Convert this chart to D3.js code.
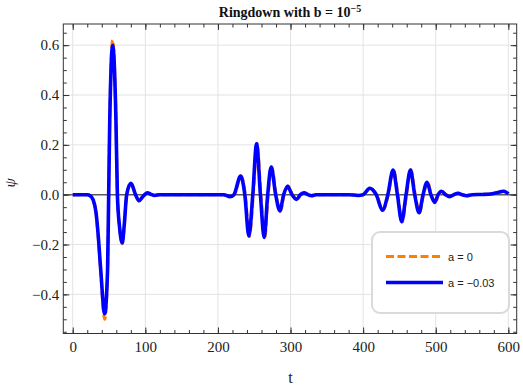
<!DOCTYPE html>
<html>
<head>
<meta charset="utf-8">
<script src="https://cdn.jsdelivr.net/npm/d3@7"></script>
<style>
body { margin: 0; background: #fff; }
</style>
</head>
<body>
<div id="vis"></div>
<script>
// ringdown waveform, values
var tBlue = [0, 20, 24, 28, 32, 35, 38.5, 44, 48, 49.5, 51, 55, 59.5, 61.5, 64.5, 68.3, 71, 74.3, 80.2, 86, 91.2, 97, 102.7, 108, 113, 120,
    200, 208, 216.5, 222, 231.2, 237, 242.6, 248, 253.2, 258.5, 263.7, 268.5, 273.3, 279.5, 285.3, 290.5, 295.9, 302, 308.2, 313.5, 318.7, 324, 328.9, 335,
    380, 393, 400, 409, 418, 426.6, 434, 441.2, 447.2, 453.1, 459.1, 465.1, 471, 477, 482.5, 488, 493.3, 498.6, 503.2, 507.8, 513.5, 519.2, 525, 530.6, 536.4, 542.2, 550, 565, 578, 587, 593, 597, 600];
var psiBlue = [0, 0, -0.004, -0.02, -0.07, -0.16, -0.3, -0.478, -0.3, 0, 0.3, 0.6, 0.3, 0, -0.13, -0.193, -0.12, 0, 0.046, 0.004, -0.024, -0.006, 0.008, 0.001, -0.003, 0,
    0, 0, -0.008, 0, 0.075, 0, -0.166, 0, 0.204, 0, -0.172, 0, 0.111, 0, -0.065, 0, 0.034, 0, -0.019, 0, 0.008, 0, -0.004, 0,
    0, -0.003, 0, 0.026, 0, -0.062, 0, 0.099, 0, -0.108, 0, 0.099, 0, -0.072, 0, 0.05, 0, -0.031, 0, 0.014, 0, -0.008, 0, 0.006, 0, -0.004, 0, 0.001, 0.004, 0.01, 0.014, 0.01, 0.003];

var tOrange = [0, 20, 24, 28, 32, 35, 38.5, 44, 48, 49.5, 51, 55, 59.5, 61.5, 64.5, 68.3, 71, 74.3, 80.2, 86, 91.2, 97, 102.7, 108, 113, 120,
    200, 208, 217, 222.7, 231.9, 237.7, 243.3, 248.7, 253.9, 259.2, 264.4, 269.2, 274, 280.2, 286, 291.2, 296.6, 302.7, 308.9, 314.2, 319.4, 324.7, 329.6, 335,
    380, 393.7, 400.7, 409.7, 418.7, 427.3, 434.7, 441.9, 447.9, 453.8, 459.8, 465.8, 471.7, 477.7, 483.2, 488.7, 494, 499.3, 503.9, 508.5, 514.2, 519.9, 525.7, 531.3, 537.1, 542.9, 550.7, 565, 578, 587, 593.5, 597.5, 600];
var psiOrange = [0, 0, -0.004, -0.021, -0.072, -0.165, -0.31, -0.5, -0.31, 0, 0.31, 0.62, 0.31, 0, -0.135, -0.197, -0.122, 0, 0.047, 0.004, -0.025, -0.006, 0.008, 0.001, -0.003, 0,
    0, 0, -0.008, 0, 0.076, 0, -0.168, 0, 0.206, 0, -0.174, 0, 0.113, 0, -0.066, 0, 0.035, 0, -0.019, 0, 0.008, 0, -0.004, 0,
    0, -0.003, 0, 0.026, 0, -0.063, 0, 0.101, 0, -0.11, 0, 0.101, 0, -0.073, 0, 0.051, 0, -0.031, 0, 0.014, 0, -0.008, 0, 0.006, 0, -0.004, 0, 0.001, 0.004, 0.01, 0.014, 0.01, 0.003];

var seriesNames = ["a = 0", "a = \u22120.03"];
var seriesColours = ["#ff8000", "#0000ff"];

var xTicks = [0, 100, 200, 300, 400, 500, 600];
var xMinorTicks = d3.range(-0, 620, 20);
var yTicks = [-0.4, -0.2, 0.0, 0.2, 0.4, 0.6];
var yMinorTicks = d3.range(-0.55, 0.7, 0.05);

var width = 523;
var height = 392;

var margin = {
    top: 24,
    bottom: 58.5,
    left: 63.3,
    right: 6.3
}

var svg = d3.select('#vis')
    .append('svg')
    .attr('width', width)
    .attr('height', height)
    .style('font-family', '"Liberation Serif", "Times New Roman", serif');

var w = width - margin.left - margin.right;
var h = height - margin.top - margin.bottom;

var g = svg.append('g')
    .attr('transform', 'translate(' + margin.left + ',' + margin.top + ')');

var x_scale = d3.scaleLinear()
    .domain([-13, 611.5])
    .range([0, w]);

var y_scale = d3.scaleLinear()
    .domain([-0.557, 0.685])
    .range([h, 0]);

g.append('clipPath')
    .attr('id', 'plotclip')
    .append('rect')
    .attr('width', w)
    .attr('height', h);

// grid
g.selectAll('.vgrid')
    .data(xTicks)
    .enter()
    .append('line')
    .attr('x1', function(d) { return x_scale(d); })
    .attr('x2', function(d) { return x_scale(d); })
    .attr('y1', 0)
    .attr('y2', h)
    .attr('stroke', '#e3e3e3');

g.selectAll('.hgrid')
    .data(yTicks.filter(function(d) { return d != 0; }))
    .enter()
    .append('line')
    .attr('y1', function(d) { return y_scale(d); })
    .attr('y2', function(d) { return y_scale(d); })
    .attr('x1', 0)
    .attr('x2', w)
    .attr('stroke', '#e3e3e3');

// zero line
g.append('line')
    .attr('x1', 0)
    .attr('x2', w)
    .attr('y1', y_scale(0))
    .attr('y2', y_scale(0))
    .attr('stroke', '#5a5a5a')
    .attr('stroke-width', 1.6);

var line = d3.line()
    .x(function(d) { return x_scale(d[0]); })
    .y(function(d) { return y_scale(d[1]); })
    .curve(d3.curveMonotoneX);

var orangeData = tOrange.map(function(t, i) { return [t, psiOrange[i]]; });
var blueData = tBlue.map(function(t, i) { return [t, psiBlue[i]]; });

var curves = g.append('g').attr('clip-path', 'url(#plotclip)');

curves.append('path')
    .datum(orangeData)
    .attr('d', line)
    .attr('fill', 'none')
    .attr('stroke', seriesColours[0])
    .attr('stroke-width', 3)
    .attr('stroke-dasharray', '8,3.5');

curves.append('path')
    .datum(blueData)
    .attr('d', line)
    .attr('fill', 'none')
    .attr('stroke', seriesColours[1])
    .attr('stroke-width', 3.6)
    .attr('stroke-linejoin', 'round');

// axes, ticks pointing inwards on all four sides
var fmt = d3.format('.1f');

function styleAxis(sel) {
    sel.select('.domain').remove();
    sel.selectAll('line').attr('stroke', '#333');
    sel.selectAll('text')
        .attr('fill', '#222')
        .style('font-size', '15px')
        .style('font-family', '"Liberation Serif", "Times New Roman", serif');
}

g.append('g')
    .attr('transform', 'translate(0,' + h + ')')
    .call(d3.axisBottom(x_scale).tickValues(xMinorTicks).tickSize(-3.5).tickFormat(''))
    .call(styleAxis);
g.append('g')
    .attr('transform', 'translate(0,' + h + ')')
    .call(d3.axisBottom(x_scale).tickValues(xTicks).tickSize(-6).tickPadding(8).tickFormat(d3.format('d')))
    .call(styleAxis);
g.append('g')
    .call(d3.axisTop(x_scale).tickValues(xMinorTicks).tickSize(-3.5).tickFormat(''))
    .call(styleAxis);
g.append('g')
    .call(d3.axisTop(x_scale).tickValues(xTicks).tickSize(-6).tickFormat(''))
    .call(styleAxis);

g.append('g')
    .call(d3.axisLeft(y_scale).tickValues(yMinorTicks).tickSize(-3.5).tickFormat(''))
    .call(styleAxis);
g.append('g')
    .call(d3.axisLeft(y_scale).tickValues(yTicks).tickSize(-6).tickPadding(4).tickFormat(fmt))
    .call(styleAxis);
g.append('g')
    .attr('transform', 'translate(' + w + ',0)')
    .call(d3.axisRight(y_scale).tickValues(yMinorTicks).tickSize(-3.5).tickFormat(''))
    .call(styleAxis);
g.append('g')
    .attr('transform', 'translate(' + w + ',0)')
    .call(d3.axisRight(y_scale).tickValues(yTicks).tickSize(-6).tickFormat(''))
    .call(styleAxis);

// frame
g.append('rect')
    .attr('width', w)
    .attr('height', h)
    .attr('fill', 'none')
    .attr('stroke', '#333');

// title
var title = svg.append('text')
    .attr('x', 290)
    .attr('y', 17)
    .attr('text-anchor', 'middle')
    .style('font-size', '14px')
    .style('font-weight', 'bold')
    .attr('fill', '#111');
title.append('tspan').text('Ringdown with b = 10');
title.append('tspan')
    .attr('dy', -5)
    .style('font-size', '10px')
    .text('\u22125');

// axis labels
svg.append('text')
    .attr('x', margin.left + x_scale(300))
    .attr('y', 383)
    .attr('text-anchor', 'middle')
    .style('font-size', '16px')
    .attr('fill', '#222')
    .text('t');

svg.append('text')
    .attr('transform', 'translate(15,' + (margin.top + h / 2 + 4) + ') rotate(-90)')
    .attr('text-anchor', 'middle')
    .style('font-size', '15px')
    .style('font-style', 'italic')
    .attr('fill', '#222')
    .text('\u03c8');

// legend
var legend = svg.append('g')
    .attr('transform', 'translate(372,232)');

legend.append('rect')
    .attr('width', 137)
    .attr('height', 81)
    .attr('rx', 8)
    .attr('fill', '#fff')
    .attr('stroke', '#dadada')
    .attr('stroke-width', 2);

var items = legend.selectAll('.item')
    .data(seriesNames)
    .enter()
    .append('g')
    .attr('transform', function(d, i) { return 'translate(0,' + (24.5 + i * 26) + ')'; });

items.append('line')
    .attr('x1', 14)
    .attr('x2', function(d, i) { return i == 0 ? 68 : 71; })
    .attr('stroke', function(d, i) { return seriesColours[i]; })
    .attr('stroke-width', function(d, i) { return i == 0 ? 3 : 3.6; })
    .attr('stroke-dasharray', function(d, i) { return i == 0 ? '8,3.5' : null; });

items.append('text')
    .attr('x', 76)
    .attr('y', 4)
    .style('font-family', '"Liberation Sans", Arial, sans-serif')
    .style('font-size', '11px')
    .attr('fill', '#222')
    .text(function(d) { return d; });
</script>
</body>
</html>
